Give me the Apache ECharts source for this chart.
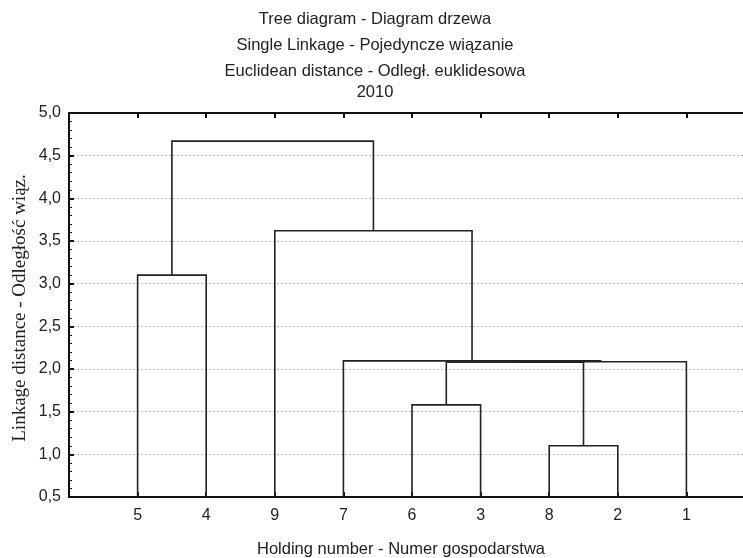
<!DOCTYPE html>
<html>
<head>
<meta charset="utf-8">
<script src="https://cdn.jsdelivr.net/npm/echarts@6/dist/echarts.min.js"></script>
<style>html,body{margin:0;padding:0;background:#fff;}#c{width:743px;height:558px;}</style>
</head>
<body>
<div id="c"></div>
<script>
// Leaf labels in dendrogram order (left to right)
const leaves = ['5', '4', '9', '7', '6', '3', '8', '2', '1'];
// Merges: ids 0..8 are leaves (by position), 9+ are clusters in merge order
const mergeLeft   = [6, 4, 10, 11, 3, 0, 2, 14];
const mergeRight  = [7, 5, 9, 8, 12, 1, 13, 15];
const mergeHeight = [1.10, 1.58, 2.08, 2.085, 2.095, 3.10, 3.62, 4.67];
const yTicks = { min: 0.5, max: 5.0, interval: 0.5 };
const titles = ['Tree diagram - Diagram drzewa', 'Single Linkage - Pojedyncze wiązanie', 'Euclidean distance - Odległ. euklidesowa', '2010'];
const xTitle = 'Holding number - Numer gospodarstwa';
const yTitle = 'Linkage distance - Odległość wiąz.';

// Build node positions from merge data
const nodeX = leaves.map((_, i) => i + 1);
const nodeY = leaves.map(() => yTicks.min);
const links = [];
for (let k = 0; k < mergeLeft.length; k++) {
  const a = mergeLeft[k], b = mergeRight[k], h = mergeHeight[k];
  links.push([nodeX[a], nodeY[a], nodeX[b], nodeY[b], h]);
  nodeX.push((nodeX[a] + nodeX[b]) / 2);
  nodeY.push(h);
}

const sans = 'Liberation Sans, Arial, sans-serif';
const serif = 'Liberation Serif, Times New Roman, serif';
const txt = '#222';
const chart = echarts.init(document.getElementById('c'), null, { renderer: 'canvas' });
const titleY = [19, 45, 71, 92];
const graphics = titles.map((t, i) => ({
  type: 'text', x: 375, y: titleY[i],
  style: { text: t, textAlign: 'center', textVerticalAlign: 'middle', fontFamily: sans, fontSize: 16.5, fill: txt }
}));
graphics.push({
  type: 'text', x: 401, y: 549,
  style: { text: xTitle, textAlign: 'center', textVerticalAlign: 'middle', fontFamily: sans, fontSize: 16.5, fill: txt }
});
graphics.push({
  type: 'text', x: 20, y: 308, rotation: Math.PI / 2,
  style: { text: yTitle, textAlign: 'center', textVerticalAlign: 'middle', fontFamily: serif, fontSize: 19, fill: txt }
});

chart.setOption({
  animation: false,
  backgroundColor: '#fff',
  graphic: graphics,
  grid: { left: 69, top: 113, width: 686, height: 384, outerBoundsMode: 'none', containLabel: false },
  xAxis: [{
    type: 'value', min: 0, max: 10, interval: 1, position: 'bottom',
    axisLine: { show: true, lineStyle: { color: '#111', width: 2 } },
    axisTick: { show: true, inside: true, length: 5, lineStyle: { color: '#111', width: 2 } },
    splitLine: { show: false },
    axisLabel: {
      margin: 11, fontFamily: sans, fontSize: 16, color: txt,
      formatter: v => (v >= 1 && v <= leaves.length) ? leaves[v - 1] : ''
    }
  }, {
    type: 'value', min: 0, max: 10, interval: 1, position: 'top',
    axisLine: { show: true, lineStyle: { color: '#111', width: 2 } },
    axisTick: { show: true, inside: true, length: 5, lineStyle: { color: '#111', width: 2 } },
    splitLine: { show: false },
    axisLabel: { show: false }
  }],
  yAxis: {
    type: 'value', min: yTicks.min, max: yTicks.max, interval: yTicks.interval,
    axisLine: { show: true, lineStyle: { color: '#111', width: 2 } },
    axisTick: { show: true, inside: true, length: 5, lineStyle: { color: '#111', width: 2 } },
    minorTick: { show: true, splitNumber: 5, length: 3, lineStyle: { color: '#111', width: 1 } },
    splitLine: { show: true, lineStyle: { color: '#bbb', width: 1, type: [2, 2] } },
    axisLabel: {
      margin: 8, fontFamily: sans, fontSize: 16, color: txt,
      formatter: v => v.toFixed(1).replace('.', ',')
    }
  },
  series: [{
    type: 'custom',
    coordinateSystem: 'cartesian2d',
    xAxisIndex: 0, yAxisIndex: 0,
    data: links,
    encode: { x: [0, 2], y: [1, 3, 4] },
    renderItem: function (params, api) {
      const x1 = api.value(0), y1 = api.value(1), x2 = api.value(2), y2 = api.value(3), h = api.value(4);
      const pts = [api.coord([x1, y1]), api.coord([x1, h]), api.coord([x2, h]), api.coord([x2, y2])];
      return {
        type: 'polyline',
        shape: { points: pts },
        style: { stroke: '#222', lineWidth: 1.6, fill: null }
      };
    }
  }]
});
</script>
</body>
</html>
